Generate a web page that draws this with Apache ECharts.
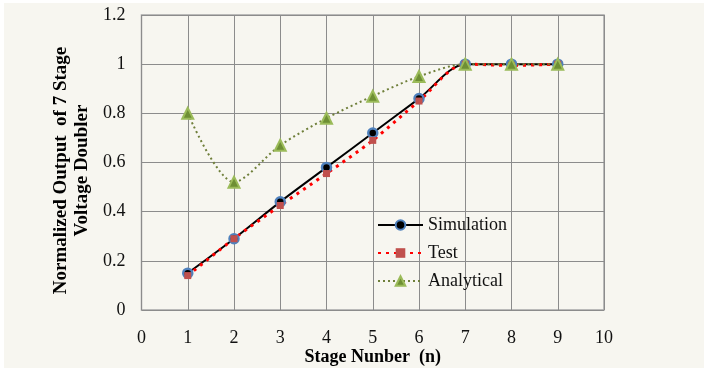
<!DOCTYPE html>
<html>
<head>
<meta charset="utf-8">
<script src="https://cdn.jsdelivr.net/npm/echarts@6/dist/echarts.min.js"></script>
<style>
  html, body { margin: 0; padding: 0; background: #ffffff; }
  #chart { position: absolute; left: 4px; top: 3px; width: 700px; height: 365px; background: #f7f6f0; }
</style>
</head>
<body>
<div id="chart"></div>
<script>
// stage number on x, normalized output on y
var stages = [1, 2, 3, 4, 5, 6, 7, 8, 9];
var simulation = [0.15, 0.29, 0.44, 0.58, 0.72, 0.86, 1.0, 1.0, 1.0];
var test = [0.14, 0.29, 0.425, 0.555, 0.69, 0.85, 1.0, 0.995, 1.0];
var analytical = [0.80, 0.52, 0.67, 0.78, 0.87, 0.95, 1.0, 1.0, 1.0];

function pairs(vals) {
  return stages.map(function (s, i) { return [s, vals[i]]; });
}

var serif = '"Liberation Serif", "DejaVu Serif", serif';
var chart = echarts.init(document.getElementById('chart'));

chart.setOption({
  animation: false,
  grid: {
    left: 137.5, right: 100, top: 12, bottom: 58,
    outerBoundsMode: 'none',
    show: true, borderColor: '#a6a6a6', borderWidth: 1.5
  },
  legend: {
    orient: 'vertical',
    left: 368,
    top: 208,
    itemWidth: 45,
    itemHeight: 12,
    itemGap: 10,
    textStyle: { fontFamily: serif, fontSize: 18, color: '#111' },
    data: ['Simulation', 'Test', 'Analytical']
  },
  xAxis: {
    type: 'value',
    min: 0,
    max: 10,
    interval: 1,
    name: 'Stage Nunber  (n)',
    nameLocation: 'middle',
    nameGap: 38,
    nameMoveOverlap: false,
    nameTextStyle: { fontFamily: serif, fontSize: 18, fontWeight: 'bold', color: '#000' },
    axisLine: { show: false },
    axisTick: { show: false },
    axisLabel: { fontFamily: serif, fontSize: 18, color: '#111', margin: 19 },
    splitLine: { show: true, lineStyle: { color: '#8c8c8c', width: 1 } }
  },
  yAxis: {
    type: 'value',
    min: 0,
    max: 1.2,
    interval: 0.2,
    name: 'Normalized Output  of 7 Stage\nVoltage Doubler',
    nameLocation: 'middle',
    nameGap: 45,
    nameTextStyle: { fontFamily: serif, fontSize: 19, fontWeight: 'bold', color: '#000', lineHeight: 21, padding: [0, 16, 0, 0] },
    axisLine: { show: false },
    axisTick: { show: false },
    axisLabel: { fontFamily: serif, fontSize: 18, color: '#111', margin: 16 },
    splitLine: { show: true, lineStyle: { color: '#8c8c8c', width: 1 } }
  },
  series: [
    {
      name: 'Simulation',
      type: 'line',
      smooth: 0.3,
      data: pairs(simulation),
      symbol: 'circle',
      symbolSize: 9,
      lineStyle: { color: '#000', width: 2 },
      itemStyle: { color: '#000', borderColor: '#4f81bd', borderWidth: 2.5 }
    },
    {
      name: 'Test',
      type: 'line',
      smooth: 0.3,
      data: pairs(test),
      symbol: 'rect',
      symbolSize: 7,
      lineStyle: { color: '#ff0000', width: 3, type: [3, 5] },
      itemStyle: { color: '#c0504d' }
    },
    {
      name: 'Analytical',
      type: 'line',
      smooth: 0.3,
      data: pairs(analytical),
      symbol: 'triangle',
      symbolSize: 11,
      lineStyle: { color: '#6f7f3a', width: 2, type: [2, 3] },
      itemStyle: { color: '#6e8f34', borderColor: '#9bbb59', borderWidth: 2 }
    }
  ]
});
</script>
</body>
</html>
